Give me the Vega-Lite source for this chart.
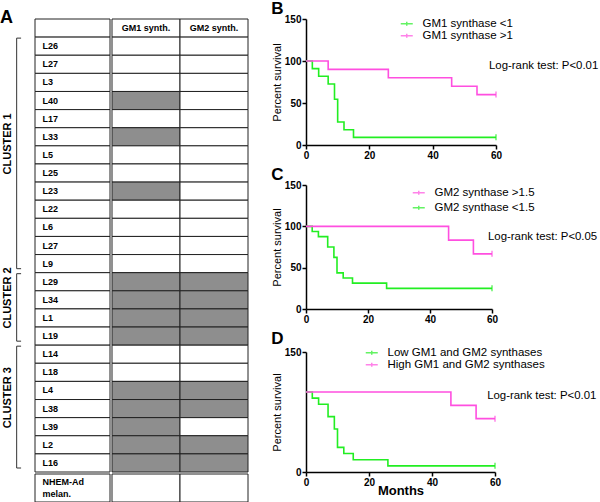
{
  "$schema": "https://vega.github.io/schema/vega-lite/v6.json",
  "padding": 0,
  "background": "white",
  "config": {
    "font": "Liberation Sans",
    "view": {"stroke": null},
    "title": {"anchor": "start", "fontSize": 17, "fontWeight": "bold", "color": "black", "frame": "bounds", "offset": 1},
    "axis": {"domainColor": "black", "domainWidth": 1.5, "tickColor": "black", "tickWidth": 1.5, "tickSize": 4, "labelFontSize": 10, "labelFontWeight": "bold", "labelColor": "black", "titleColor": "black", "titleFontWeight": "normal", "titleFontSize": 11, "grid": false, "labelPadding": 1, "labelOverlap": false, "labelFlush": false},
    "legend": {"title": null, "symbolType": "M-2,0H2M0,-0.7V0.7", "symbolSize": 36, "symbolStrokeWidth": 1.5, "labelFontSize": 11.5, "labelColor": "black", "labelOffset": 10, "orient": "none"}
  },
  "datasets": {
    "table": [
      {"row": 0, "line": "", "gm1": "GM1 synth.", "gm2": "GM2 synth."},
      {"row": 1, "line": "L26", "gm1": "low", "gm2": "low"},
      {"row": 2, "line": "L27", "gm1": "low", "gm2": "low"},
      {"row": 3, "line": "L3", "gm1": "low", "gm2": "low"},
      {"row": 4, "line": "L40", "gm1": "high", "gm2": "low"},
      {"row": 5, "line": "L17", "gm1": "low", "gm2": "low"},
      {"row": 6, "line": "L33", "gm1": "high", "gm2": "low"},
      {"row": 7, "line": "L5", "gm1": "low", "gm2": "low"},
      {"row": 8, "line": "L25", "gm1": "low", "gm2": "low"},
      {"row": 9, "line": "L23", "gm1": "high", "gm2": "low"},
      {"row": 10, "line": "L22", "gm1": "low", "gm2": "low"},
      {"row": 11, "line": "L6", "gm1": "low", "gm2": "low"},
      {"row": 12, "line": "L27", "gm1": "low", "gm2": "low"},
      {"row": 13, "line": "L9", "gm1": "low", "gm2": "low"},
      {"row": 14, "line": "L29", "gm1": "high", "gm2": "high"},
      {"row": 15, "line": "L34", "gm1": "high", "gm2": "high"},
      {"row": 16, "line": "L1", "gm1": "high", "gm2": "high"},
      {"row": 17, "line": "L19", "gm1": "high", "gm2": "high"},
      {"row": 18, "line": "L14", "gm1": "low", "gm2": "low"},
      {"row": 19, "line": "L18", "gm1": "low", "gm2": "low"},
      {"row": 20, "line": "L4", "gm1": "high", "gm2": "high"},
      {"row": 21, "line": "L38", "gm1": "high", "gm2": "high"},
      {"row": 22, "line": "L39", "gm1": "high", "gm2": "low"},
      {"row": 23, "line": "L2", "gm1": "high", "gm2": "high"},
      {"row": 24, "line": "L16", "gm1": "high", "gm2": "high"},
      {"row": 25, "line": "NHEM-Ad\nmelan.", "gm1": "low", "gm2": "low"}
    ],
    "clusters": [
      {"cluster": "CLUSTER 1", "from": 1, "to": 14},
      {"cluster": "CLUSTER 2", "from": 14, "to": 18},
      {"cluster": "CLUSTER 3", "from": 18, "to": 25}
    ],
    "km": [
      {"panel": "B", "group": "GM1 synthase <1", "month": 0, "survival": 100},
      {"panel": "B", "group": "GM1 synthase <1", "month": 2, "survival": 90.9},
      {"panel": "B", "group": "GM1 synthase <1", "month": 4, "survival": 81.8},
      {"panel": "B", "group": "GM1 synthase <1", "month": 7, "survival": 72.7},
      {"panel": "B", "group": "GM1 synthase <1", "month": 9, "survival": 54.5},
      {"panel": "B", "group": "GM1 synthase <1", "month": 10, "survival": 27.3},
      {"panel": "B", "group": "GM1 synthase <1", "month": 12, "survival": 18.2},
      {"panel": "B", "group": "GM1 synthase <1", "month": 15, "survival": 9.1},
      {"panel": "B", "group": "GM1 synthase <1", "month": 60, "survival": 9.1},
      {"panel": "B", "group": "GM1 synthase >1", "month": 0, "survival": 100},
      {"panel": "B", "group": "GM1 synthase >1", "month": 7, "survival": 90},
      {"panel": "B", "group": "GM1 synthase >1", "month": 26, "survival": 80},
      {"panel": "B", "group": "GM1 synthase >1", "month": 46, "survival": 70},
      {"panel": "B", "group": "GM1 synthase >1", "month": 54, "survival": 60},
      {"panel": "B", "group": "GM1 synthase >1", "month": 60, "survival": 60},
      {"panel": "C", "group": "GM2 synthase <1.5", "month": 0, "survival": 100},
      {"panel": "C", "group": "GM2 synthase <1.5", "month": 2, "survival": 93.75},
      {"panel": "C", "group": "GM2 synthase <1.5", "month": 4, "survival": 87.5},
      {"panel": "C", "group": "GM2 synthase <1.5", "month": 7, "survival": 75},
      {"panel": "C", "group": "GM2 synthase <1.5", "month": 9, "survival": 62.5},
      {"panel": "C", "group": "GM2 synthase <1.5", "month": 10, "survival": 43.75},
      {"panel": "C", "group": "GM2 synthase <1.5", "month": 12, "survival": 37.5},
      {"panel": "C", "group": "GM2 synthase <1.5", "month": 15, "survival": 31.25},
      {"panel": "C", "group": "GM2 synthase <1.5", "month": 26, "survival": 25},
      {"panel": "C", "group": "GM2 synthase <1.5", "month": 60, "survival": 25},
      {"panel": "C", "group": "GM2 synthase >1.5", "month": 0, "survival": 100},
      {"panel": "C", "group": "GM2 synthase >1.5", "month": 46, "survival": 83.3},
      {"panel": "C", "group": "GM2 synthase >1.5", "month": 54, "survival": 66.7},
      {"panel": "C", "group": "GM2 synthase >1.5", "month": 60, "survival": 66.7},
      {"panel": "D", "group": "Low GM1 and GM2 synthases", "month": 0, "survival": 100},
      {"panel": "D", "group": "Low GM1 and GM2 synthases", "month": 2, "survival": 92.3},
      {"panel": "D", "group": "Low GM1 and GM2 synthases", "month": 4, "survival": 84.6},
      {"panel": "D", "group": "Low GM1 and GM2 synthases", "month": 7, "survival": 69.2},
      {"panel": "D", "group": "Low GM1 and GM2 synthases", "month": 9, "survival": 53.8},
      {"panel": "D", "group": "Low GM1 and GM2 synthases", "month": 10, "survival": 30.8},
      {"panel": "D", "group": "Low GM1 and GM2 synthases", "month": 12, "survival": 23.1},
      {"panel": "D", "group": "Low GM1 and GM2 synthases", "month": 15, "survival": 15.4},
      {"panel": "D", "group": "Low GM1 and GM2 synthases", "month": 26, "survival": 7.7},
      {"panel": "D", "group": "Low GM1 and GM2 synthases", "month": 60, "survival": 7.7},
      {"panel": "D", "group": "High GM1 and GM2 synthases", "month": 0, "survival": 100},
      {"panel": "D", "group": "High GM1 and GM2 synthases", "month": 46, "survival": 83.3},
      {"panel": "D", "group": "High GM1 and GM2 synthases", "month": 54, "survival": 66.7},
      {"panel": "D", "group": "High GM1 and GM2 synthases", "month": 60, "survival": 66.7}
    ]
  },
  "resolve": {"scale": {"color": "independent"}, "legend": {"color": "independent"}},
  "spacing": 22,
  "hconcat": [
    {
      "title": {"text": "A", "fontSize": 18, "offset": -8},
      "columns": 3,
      "spacing": 0,
      "concat": [
        {
          "width": 34, "height": 453,
          "data": {"name": "clusters"},
          "layer": [
            {
              "mark": {"type": "rule", "color": "#333", "strokeWidth": 1, "yOffset": 1, "y2Offset": -4},
              "encoding": {
                "x": {"datum": 0.49, "type": "quantitative", "scale": {"domain": [0, 1]}, "axis": null},
                "y": {"field": "from", "type": "quantitative", "scale": {"domain": [0, 25], "reverse": true, "nice": false}, "axis": null},
                "y2": {"field": "to"}
              }
            },
            {
              "mark": {"type": "rule", "color": "#333", "strokeWidth": 1, "yOffset": 1},
              "encoding": {
                "x": {"datum": 0.49, "type": "quantitative"},
                "x2": {"datum": 0.62},
                "y": {"field": "from", "type": "quantitative"}
              }
            },
            {
              "mark": {"type": "rule", "color": "#333", "strokeWidth": 1, "yOffset": -4},
              "encoding": {
                "x": {"datum": 0.49, "type": "quantitative"},
                "x2": {"datum": 0.62},
                "y": {"field": "to", "type": "quantitative"}
              }
            },
            {
              "transform": [
                {"fold": ["from", "to"], "as": ["edge", "bound"]},
                {"aggregate": [{"op": "mean", "field": "bound", "as": "mid"}], "groupby": ["cluster"]}
              ],
              "mark": {"type": "text", "angle": 270, "fontSize": 11, "fontWeight": "bold", "align": "center", "baseline": "middle", "dx": 11, "color": "black"},
              "encoding": {
                "x": {"datum": 0.24, "type": "quantitative"},
                "y": {"field": "mid", "type": "quantitative"},
                "text": {"field": "cluster"}
              }
            }
          ]
        },
        {
          "width": 75, "height": 453,
          "data": {"name": "table"},
          "transform": [{"filter": "datum.row <= 24"}],
          "layer": [
            {
              "mark": {"type": "rect", "fill": "white", "stroke": "#222", "strokeWidth": 1},
              "encoding": {
                "y": {"field": "row", "type": "ordinal", "scale": {"paddingInner": 0, "paddingOuter": 0}, "axis": null}
              }
            },
            {
              "mark": {"type": "text", "align": "left", "baseline": "middle", "fontSize": 9, "fontWeight": "bold", "color": "black"},
              "encoding": {
                "x": {"datum": 0.1, "type": "quantitative", "scale": {"domain": [0, 1]}, "axis": null},
                "y": {"field": "row", "type": "ordinal", "axis": null},
                "text": {"field": "line"}
              }
            }
          ]
        },
        {
          "width": 136, "height": 453,
          "data": {"name": "table"},
          "transform": [
            {"filter": "datum.row <= 24"},
            {"fold": ["gm1", "gm2"], "as": ["synthase", "level"]}
          ],
          "layer": [
            {
              "mark": {"type": "rect", "stroke": "#222", "strokeWidth": 1},
              "encoding": {
                "x": {"field": "synthase", "type": "nominal", "scale": {"paddingInner": 0, "paddingOuter": 0}, "axis": null},
                "y": {"field": "row", "type": "ordinal", "scale": {"paddingInner": 0, "paddingOuter": 0}, "axis": null},
                "fill": {"condition": {"test": "datum.level == 'high'", "value": "#8e8e8e"}, "value": "white"}
              }
            },
            {
              "transform": [{"filter": "datum.row == 0"}],
              "mark": {"type": "text", "align": "center", "baseline": "middle", "fontSize": 9, "fontWeight": "bold", "color": "black"},
              "encoding": {
                "x": {"field": "synthase", "type": "nominal", "axis": null},
                "y": {"field": "row", "type": "ordinal", "axis": null},
                "text": {"field": "level"}
              }
            }
          ]
        },
        {
          "width": 34, "height": 28,
          "data": {"values": [{}]},
          "mark": {"type": "rect", "opacity": 0},
          "encoding": {}
        },
        {
          "width": 75, "height": 28,
          "data": {"name": "table"},
          "transform": [{"filter": "datum.row == 25"}],
          "layer": [
            {
              "mark": {"type": "rect", "fill": "white", "stroke": "#222", "strokeWidth": 1},
              "encoding": {
                "y": {"field": "row", "type": "ordinal", "scale": {"paddingInner": 0, "paddingOuter": 0}, "axis": null}
              }
            },
            {
              "mark": {"type": "text", "align": "left", "baseline": "middle", "fontSize": 9, "fontWeight": "bold", "color": "black", "lineBreak": "\n", "lineHeight": 12, "dy": -6},
              "encoding": {
                "x": {"datum": 0.1, "type": "quantitative", "scale": {"domain": [0, 1]}, "axis": null},
                "y": {"field": "row", "type": "ordinal", "axis": null},
                "text": {"field": "line"}
              }
            }
          ]
        },
        {
          "width": 136, "height": 28,
          "data": {"name": "table"},
          "transform": [
            {"filter": "datum.row == 25"},
            {"fold": ["gm1", "gm2"], "as": ["synthase", "level"]}
          ],
          "mark": {"type": "rect", "stroke": "#222", "strokeWidth": 1},
          "encoding": {
            "x": {"field": "synthase", "type": "nominal", "scale": {"paddingInner": 0, "paddingOuter": 0}, "axis": null},
            "y": {"field": "row", "type": "ordinal", "scale": {"paddingInner": 0, "paddingOuter": 0}, "axis": null},
            "fill": {"condition": {"test": "datum.level == 'high'", "value": "#8e8e8e"}, "value": "white"}
          }
        }
      ]
    },
    {
      "spacing": 6,
      "resolve": {"scale": {"color": "independent"}, "legend": {"color": "independent"}},
      "vconcat": [
        {
          "title": {"text": "B", "offset": -4},
          "width": 190, "height": 126,
          "layer": [
            {
              "data": {"name": "km"},
              "transform": [{"filter": "datum.panel == 'B'"}],
              "mark": {"type": "line", "interpolate": "step-after", "strokeWidth": 1.6},
              "encoding": {
                "x": {"field": "month", "type": "quantitative", "scale": {"domain": [0, 60], "nice": false}, "axis": {"values": [0, 20, 40, 60], "title": null}},
                "y": {"field": "survival", "type": "quantitative", "scale": {"domain": [0, 150], "nice": false}, "axis": {"values": [0, 50, 100, 150], "title": "Percent survival", "titlePadding": 2}},
                "color": {"field": "group", "type": "nominal", "scale": {"domain": ["GM1 synthase <1", "GM1 synthase >1"], "range": ["#22ee22", "#ff4fe0"]},
                  "legend": {"legendX": 95, "legendY": -1, "rowPadding": -2}}
              }
            },
            {
              "data": {"name": "km"},
              "transform": [{"filter": "datum.panel == 'B' && datum.month == 60"}],
              "mark": {"type": "tick", "orient": "vertical", "size": 6, "thickness": 1.5},
              "encoding": {
                "x": {"field": "month", "type": "quantitative"},
                "y": {"field": "survival", "type": "quantitative"},
                "color": {"field": "group", "type": "nominal"}
              }
            },
            {
              "data": {"values": [{"note": "Log-rank test: P<0.01"}]},
              "mark": {"type": "text", "align": "left", "baseline": "middle", "fontSize": 11.4, "fontWeight": "normal", "color": "black"},
              "encoding": {
                "x": {"datum": 57.8, "type": "quantitative"},
                "y": {"datum": 94, "type": "quantitative"},
                "text": {"field": "note"}
              }
            }
          ]
        },
        {
          "title": {"text": "C", "offset": -4},
          "width": 186, "height": 124,
          "layer": [
            {
              "data": {"name": "km"},
              "transform": [{"filter": "datum.panel == 'C'"}],
              "mark": {"type": "line", "interpolate": "step-after", "strokeWidth": 1.6},
              "encoding": {
                "x": {"field": "month", "type": "quantitative", "scale": {"domain": [0, 60], "nice": false}, "axis": {"values": [0, 20, 40, 60], "title": null}},
                "y": {"field": "survival", "type": "quantitative", "scale": {"domain": [0, 150], "nice": false}, "axis": {"values": [0, 50, 100, 150], "title": "Percent survival", "titlePadding": 2}},
                "color": {"field": "group", "type": "nominal", "scale": {"domain": ["GM2 synthase >1.5", "GM2 synthase <1.5"], "range": ["#ff4fe0", "#22ee22"]},
                  "legend": {"legendX": 107, "legendY": 2, "rowPadding": 2}}
              }
            },
            {
              "data": {"name": "km"},
              "transform": [{"filter": "datum.panel == 'C' && datum.month == 60"}],
              "mark": {"type": "tick", "orient": "vertical", "size": 6, "thickness": 1.5},
              "encoding": {
                "x": {"field": "month", "type": "quantitative"},
                "y": {"field": "survival", "type": "quantitative"},
                "color": {"field": "group", "type": "nominal"}
              }
            },
            {
              "data": {"values": [{"note": "Log-rank test: P<0.05"}]},
              "mark": {"type": "text", "align": "left", "baseline": "middle", "fontSize": 11.4, "fontWeight": "normal", "color": "black"},
              "encoding": {
                "x": {"datum": 58.7, "type": "quantitative"},
                "y": {"datum": 87, "type": "quantitative"},
                "text": {"field": "note"}
              }
            }
          ]
        },
        {
          "title": {"text": "D", "offset": -1},
          "width": 189, "height": 120,
          "layer": [
            {
              "data": {"name": "km"},
              "transform": [{"filter": "datum.panel == 'D'"}],
              "mark": {"type": "line", "interpolate": "step-after", "strokeWidth": 1.6},
              "encoding": {
                "x": {"field": "month", "type": "quantitative", "scale": {"domain": [0, 60], "nice": false}, "axis": {"values": [0, 20, 40, 60], "title": "Months", "titleFontSize": 13, "titleFontWeight": "bold", "titlePadding": -3}},
                "y": {"field": "survival", "type": "quantitative", "scale": {"domain": [0, 150], "nice": false}, "axis": {"values": [0, 50, 100, 150], "title": "Percent survival", "titlePadding": 2}},
                "color": {"field": "group", "type": "nominal", "scale": {"domain": ["Low GM1 and GM2 synthases", "High GM1 and GM2 synthases"], "range": ["#22ee22", "#ff4fe0"]},
                  "legend": {"legendX": 60, "legendY": -5, "rowPadding": -6}}
              }
            },
            {
              "data": {"name": "km"},
              "transform": [{"filter": "datum.panel == 'D' && datum.month == 60"}],
              "mark": {"type": "tick", "orient": "vertical", "size": 6, "thickness": 1.5},
              "encoding": {
                "x": {"field": "month", "type": "quantitative"},
                "y": {"field": "survival", "type": "quantitative"},
                "color": {"field": "group", "type": "nominal"}
              }
            },
            {
              "data": {"values": [{"note": "Log-rank test: P<0.01"}]},
              "mark": {"type": "text", "align": "left", "baseline": "middle", "fontSize": 11.4, "fontWeight": "normal", "color": "black"},
              "encoding": {
                "x": {"datum": 57.5, "type": "quantitative"},
                "y": {"datum": 95, "type": "quantitative"},
                "text": {"field": "note"}
              }
            }
          ]
        }
      ]
    }
  ]
}
